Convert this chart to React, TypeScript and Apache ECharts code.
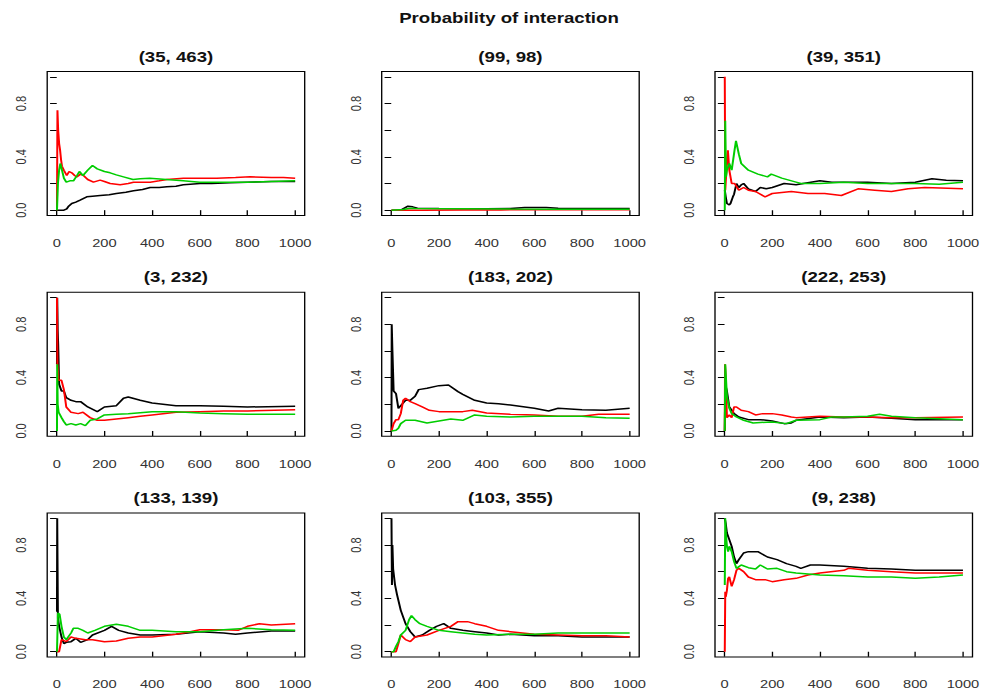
import React, { useEffect, useRef } from "react";
import * as echarts from "echarts";

const MAIN_TITLE = "Probability of interaction";
const PANEL_TITLES = [
  "(35, 463)", "(99, 98)", "(39, 351)",
  "(3, 232)", "(183, 202)", "(222, 253)",
  "(133, 139)", "(103, 355)", "(9, 238)",
];
const X_TICKS = [0, 200, 400, 600, 800, 1000];
const Y_TICKS = [0, 0.2, 0.4, 0.6, 0.8, 1.0];
const Y_LABELS = [0, 0.4, 0.8];
const LINE_COLORS = ["#000000", "#ff0000", "#00cd00"];

type P = [number, number][];

// (35, 463)
const p1Black: P = [[1,0],[30,0],[42,0.01],[50,0.03],[63,0.05],[80,0.06],[98,0.075],[126,0.1],[150,0.105],[182,0.11],[220,0.115],[250,0.125],[290,0.135],[322,0.145],[360,0.155],[392,0.17],[430,0.17],[462,0.175],[500,0.18],[531,0.19],[560,0.195],[601,0.2],[650,0.2],[727,0.205],[800,0.21],[900,0.215],[1000,0.215]];
const p1Red: P = [[1,0],[3,0.75],[6,0.6],[10,0.5],[14,0.45],[18,0.38],[22,0.33],[30,0.3],[42,0.26],[52,0.29],[63,0.28],[75,0.26],[84,0.25],[100,0.27],[112,0.26],[130,0.23],[154,0.21],[182,0.225],[200,0.215],[224,0.2],[266,0.19],[300,0.2],[322,0.21],[360,0.21],[392,0.21],[430,0.22],[462,0.23],[531,0.24],[600,0.24],[671,0.24],[750,0.245],[811,0.25],[900,0.245],[951,0.245],[1000,0.24]];
const p1Green: P = [[1,0],[5,0.2],[10,0.3],[15,0.35],[22,0.3],[30,0.24],[40,0.21],[55,0.22],[70,0.22],[85,0.26],[95,0.29],[110,0.26],[130,0.3],[150,0.335],[170,0.31],[200,0.29],[224,0.28],[250,0.265],[280,0.25],[320,0.23],[350,0.235],[390,0.24],[460,0.23],[530,0.22],[600,0.21],[700,0.21],[800,0.21],[900,0.215],[1000,0.22]];

// (99, 98)
const p2Black: P = [[1,0],[40,0],[55,0.015],[70,0.03],[90,0.025],[110,0.015],[200,0.012],[300,0.01],[400,0.01],[500,0.012],[560,0.02],[650,0.02],[700,0.015],[800,0.012],[1000,0.012]];
const p2Red: P = [[1,0],[80,0],[130,0],[300,0.002],[460,0.002],[600,0.003],[1000,0.003]];
const p2Green: P = [[1,0],[50,0.005],[80,0.015],[100,0.012],[300,0.01],[500,0.008],[700,0.007],[1000,0.006]];

// (39, 351)
const p3Black: P = [[1,0.15],[5,0.1],[10,0.05],[20,0.04],[25,0.05],[35,0.1],[40,0.12],[50,0.2],[60,0.17],[70,0.19],[80,0.2],[100,0.16],[130,0.14],[150,0.17],[175,0.16],[200,0.17],[250,0.2],[300,0.19],[330,0.2],[400,0.22],[450,0.21],[500,0.21],[600,0.21],[700,0.2],[800,0.21],[870,0.235],[930,0.225],[1000,0.22]];
const p3Red: P = [[1,1.0],[3,0.15],[8,0.3],[14,0.45],[20,0.3],[30,0.2],[42,0.2],[60,0.15],[80,0.17],[100,0.15],[130,0.14],[170,0.1],[200,0.125],[280,0.14],[350,0.125],[420,0.125],[490,0.11],[560,0.16],[630,0.15],[700,0.14],[770,0.16],[840,0.17],[1000,0.16]];
const p3Green: P = [[1,0],[3,0.67],[6,0.25],[10,0.3],[20,0.35],[30,0.3],[42,0.45],[48,0.52],[60,0.42],[70,0.35],[100,0.3],[140,0.27],[180,0.25],[196,0.27],[240,0.24],[300,0.21],[320,0.2],[400,0.2],[500,0.21],[600,0.2],[700,0.2],[800,0.2],[900,0.195],[1000,0.21]];

// (3, 232)
const p4Black: P = [[1,0.5],[2,1.0],[4,0.75],[6,0.65],[10,0.35],[20,0.3],[30,0.3],[40,0.25],[60,0.23],[80,0.22],[100,0.22],[130,0.18],[170,0.145],[200,0.18],[250,0.19],[280,0.245],[300,0.255],[350,0.23],[400,0.21],[500,0.19],[600,0.19],[700,0.185],[800,0.18],[1000,0.185]];
const p4Red: P = [[1,1.0],[3,0.5],[5,0.45],[8,0.38],[20,0.38],[30,0.31],[40,0.18],[60,0.14],[90,0.13],[110,0.14],[140,0.1],[170,0.08],[200,0.08],[250,0.09],[300,0.1],[350,0.11],[400,0.12],[500,0.14],[600,0.145],[700,0.15],[800,0.15],[1000,0.16]];
const p4Green: P = [[1,0],[2,0.5],[4,0.2],[8,0.14],[20,0.1],[30,0.07],[40,0.045],[60,0.055],[80,0.045],[100,0.055],[120,0.04],[140,0.08],[170,0.09],[200,0.12],[250,0.125],[300,0.13],[400,0.145],[500,0.145],[600,0.135],[700,0.13],[800,0.125],[1000,0.125]];

// (183, 202)
const p5Black: P = [[1,0],[2,0.8],[5,0.6],[10,0.3],[20,0.28],[30,0.17],[40,0.19],[60,0.23],[80,0.23],[100,0.26],[115,0.31],[150,0.32],[200,0.34],[240,0.345],[280,0.295],[300,0.275],[350,0.23],[400,0.21],[450,0.205],[500,0.195],[600,0.17],[660,0.15],[700,0.17],[800,0.16],[900,0.155],[1000,0.17]];
const p5Red: P = [[1,0],[10,0.055],[20,0.085],[30,0.085],[40,0.13],[50,0.23],[60,0.245],[80,0.22],[100,0.205],[130,0.18],[160,0.155],[200,0.145],[250,0.145],[300,0.145],[340,0.155],[400,0.135],[500,0.125],[600,0.12],[700,0.11],[800,0.11],[870,0.125],[1000,0.125]];
const p5Green: P = [[1,0],[20,0.005],[30,0.02],[40,0.055],[60,0.08],[100,0.08],[150,0.06],[200,0.075],[250,0.09],[300,0.08],[350,0.12],[400,0.11],[500,0.105],[600,0.11],[700,0.11],[800,0.11],[900,0.1],[1000,0.095]];

// (222, 253)
const p6Black: P = [[1,0],[3,0.35],[10,0.3],[20,0.18],[40,0.13],[60,0.105],[100,0.085],[150,0.085],[200,0.075],[250,0.055],[280,0.06],[300,0.08],[400,0.105],[500,0.1],[600,0.105],[700,0.095],[800,0.085],[900,0.085],[1000,0.085]];
const p6Red: P = [[1,0],[2,0.5],[5,0.4],[10,0.1],[20,0.12],[30,0.1],[40,0.18],[50,0.18],[70,0.155],[100,0.145],[130,0.12],[160,0.13],[200,0.13],[240,0.12],[280,0.105],[300,0.1],[400,0.11],[500,0.105],[600,0.105],[700,0.1],[800,0.1],[1000,0.105]];
const p6Green: P = [[1,0],[3,0.5],[10,0.26],[20,0.17],[30,0.13],[50,0.105],[80,0.08],[120,0.06],[200,0.068],[260,0.055],[300,0.08],[400,0.085],[450,0.105],[500,0.105],[600,0.11],[650,0.125],[700,0.11],[800,0.1],[1000,0.085]];

// (133, 139)
const p7Black: P = [[1,0.3],[2,1.0],[5,0.25],[10,0.19],[20,0.11],[30,0.06],[40,0.07],[60,0.075],[80,0.1],[100,0.07],[130,0.09],[150,0.125],[200,0.16],[230,0.19],[260,0.16],[300,0.14],[350,0.125],[400,0.125],[500,0.13],[600,0.15],[700,0.14],[750,0.13],[800,0.14],[900,0.155],[1000,0.155]];
const p7Red: P = [[1,0],[10,0],[20,0.09],[40,0.075],[60,0.11],[80,0.1],[120,0.09],[150,0.09],[200,0.075],[250,0.08],[300,0.1],[350,0.11],[400,0.11],[500,0.13],[560,0.15],[600,0.165],[700,0.165],[760,0.16],[800,0.19],[850,0.21],[900,0.2],[1000,0.21]];
const p7Green: P = [[1,0],[5,0.29],[12,0.28],[20,0.19],[30,0.11],[40,0.09],[60,0.14],[70,0.175],[90,0.175],[110,0.16],[130,0.14],[160,0.16],[200,0.19],[250,0.205],[300,0.19],[350,0.16],[400,0.16],[500,0.15],[600,0.15],[700,0.165],[800,0.175],[900,0.165],[1000,0.16]];

// (103, 355)
const p8Black: P = [[1,1.0],[3,0.5],[5,0.8],[8,0.62],[10,0.59],[16,0.5],[24,0.43],[40,0.31],[60,0.21],[80,0.15],[100,0.11],[130,0.125],[160,0.16],[190,0.19],[220,0.21],[250,0.175],[300,0.16],[350,0.15],[400,0.14],[450,0.125],[500,0.13],[600,0.12],[700,0.12],[800,0.11],[900,0.11],[1000,0.11]];
const p8Red: P = [[1,0],[20,0],[30,0.06],[40,0.125],[60,0.09],[80,0.075],[100,0.11],[150,0.125],[200,0.16],[250,0.19],[280,0.225],[320,0.225],[350,0.21],[400,0.19],[450,0.16],[500,0.15],[550,0.14],[600,0.13],[700,0.125],[800,0.12],[900,0.12],[1000,0.11]];
const p8Green: P = [[1,0],[10,0],[20,0.04],[30,0.075],[40,0.125],[60,0.16],[75,0.24],[85,0.27],[100,0.24],[120,0.21],[150,0.19],[200,0.16],[250,0.15],[300,0.14],[350,0.13],[400,0.125],[500,0.13],[600,0.13],[700,0.14],[800,0.14],[900,0.14],[1000,0.14]];

// (9, 238)
const p9Black: P = [[1,1.0],[5,0.96],[10,0.89],[20,0.84],[30,0.79],[40,0.71],[50,0.66],[60,0.69],[80,0.74],[100,0.75],[140,0.75],[180,0.71],[220,0.69],[260,0.66],[300,0.64],[320,0.625],[360,0.65],[400,0.65],[500,0.64],[600,0.625],[700,0.62],[800,0.61],[900,0.61],[1000,0.61]];
const p9Red: P = [[1,0],[3,0.45],[5,0.41],[10,0.46],[15,0.55],[20,0.56],[30,0.49],[40,0.54],[50,0.61],[60,0.625],[80,0.6],[100,0.56],[130,0.54],[170,0.54],[200,0.525],[250,0.54],[300,0.55],[350,0.575],[400,0.59],[500,0.61],[520,0.625],[600,0.61],[700,0.6],[800,0.59],[900,0.59],[1000,0.59]];
const p9Green: P = [[1,0.5],[3,1.0],[5,0.9],[10,0.79],[15,0.75],[20,0.79],[30,0.75],[40,0.675],[50,0.625],[70,0.65],[100,0.63],[130,0.62],[150,0.65],[180,0.62],[220,0.625],[260,0.6],[300,0.59],[400,0.575],[500,0.57],[600,0.56],[700,0.56],[800,0.55],[900,0.56],[1000,0.575]];

const PANELS: P[][] = [
  [p1Black, p1Red, p1Green],
  [p2Black, p2Red, p2Green],
  [p3Black, p3Red, p3Green],
  [p4Black, p4Red, p4Green],
  [p5Black, p5Red, p5Green],
  [p6Black, p6Red, p6Green],
  [p7Black, p7Red, p7Green],
  [p8Black, p8Red, p8Green],
  [p9Black, p9Red, p9Green],
];

// layout (reference pixel space; horizontal is stretched by SX)
const SX = 1.333;
const W = 983;
const H = 698;
const BOX_LEFT = [47.2, 381.7, 715];
const BOX_W = 257.5;
const BOX_TOP = [71.5, 292.3, 513];
const BOX_H = 144;
const FONT = "'Liberation Sans', Arial, Helvetica, sans-serif";

export default function App() {
  const ref = useRef<HTMLDivElement>(null);
  useEffect(() => {
    if (!ref.current) return;
    const chart = echarts.init(ref.current, undefined, { renderer: "svg" });
    const grid: any[] = [];
    const xAxis: any[] = [];
    const yAxis: any[] = [];
    const series: any[] = [];
    const graphic: any[] = [];
    PANELS.forEach((lines, i) => {
      const r = Math.floor(i / 3);
      const c = i % 3;
      grid.push({
        left: BOX_LEFT[c] / SX,
        top: BOX_TOP[r],
        width: BOX_W / SX,
        height: BOX_H,
        show: true,
        borderColor: "#000",
        borderWidth: 1,
        backgroundColor: "transparent",
        containLabel: false,
        outerBoundsMode: "none",
      });
      xAxis.push({
        gridIndex: i,
        type: "value",
        min: -40,
        max: 1040,
        axisLine: { show: false },
        splitLine: { show: false },
        axisTick: { show: true, inside: false, length: 5, customValues: X_TICKS, lineStyle: { color: "#000", width: 1 } },
        axisLabel: {
          show: true,
          customValues: X_TICKS,
          margin: 22,
          fontSize: 11,
          color: "#333",
          fontFamily: FONT,
          formatter: (v: number) => String(v),
        },
      });
      yAxis.push({
        gridIndex: i,
        type: "value",
        min: -0.04,
        max: 1.04,
        axisLine: { show: false },
        splitLine: { show: false },
        axisTick: { show: true, inside: false, length: 5, customValues: Y_TICKS, lineStyle: { color: "#000", width: 1 } },
        axisLabel: {
          show: true,
          customValues: Y_LABELS,
          rotate: 90,
          margin: 14,
          fontSize: 11,
          color: "#333",
          fontFamily: FONT,
          formatter: (v: number) => v.toFixed(1),
        },
      });
      lines.forEach((data, k) => {
        series.push({
          type: "line",
          xAxisIndex: i,
          yAxisIndex: i,
          data,
          showSymbol: false,
          symbol: "none",
          silent: true,
          lineStyle: { color: LINE_COLORS[k], width: 1.5 },
          itemStyle: { color: LINE_COLORS[k] },
        });
      });
      graphic.push({
        type: "text",
        x: (BOX_LEFT[c] + BOX_W / 2) / SX,
        y: BOX_TOP[r] - 15,
        style: {
          text: PANEL_TITLES[i],
          font: `bold 14px ${FONT}`,
          fill: "#111",
          textAlign: "center",
          textVerticalAlign: "middle",
          align: "center",
          verticalAlign: "middle",
        },
      });
    });
    graphic.push({
      type: "text",
      x: 509 / SX,
      y: 18,
      style: {
        text: MAIN_TITLE,
        font: `bold 14px ${FONT}`,
        fill: "#111",
        textAlign: "center",
        textVerticalAlign: "middle",
        align: "center",
        verticalAlign: "middle",
      },
    });
    chart.setOption({
      animation: false,
      backgroundColor: "#fff",
      grid,
      xAxis,
      yAxis,
      series,
      graphic,
    });
    return () => chart.dispose();
  }, []);
  return (
    <div
      ref={ref}
      style={{
        position: "fixed",
        left: 0,
        top: 0,
        width: W / SX,
        height: H,
        transform: `scaleX(${SX})`,
        transformOrigin: "0 0",
      }}
    />
  );
}
